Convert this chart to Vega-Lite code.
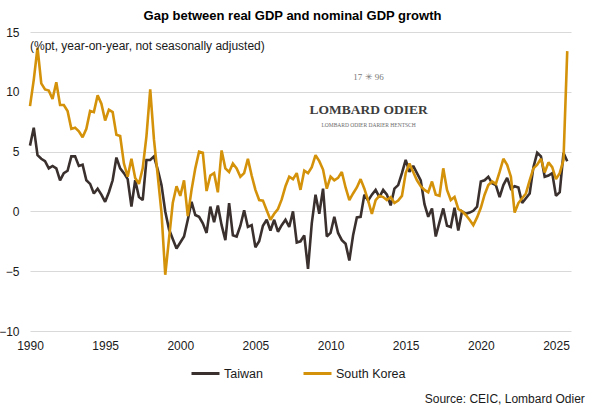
{
  "$schema": "https://vega.github.io/schema/vega-lite/v6.json",
  "width": 541,
  "height": 299,
  "autosize": {"type": "none"},
  "padding": {"left": 30, "top": 32, "right": 23, "bottom": 83},
  "background": "white",
  "title": {"text": "Gap between real GDP and nominal GDP growth", "fontSize": 13, "fontWeight": "bold", "font": "Liberation Sans", "color": "#000000", "anchor": "middle", "offset": 3, "dx": -8},
  "config": {"view": {"stroke": null}, "font": "Liberation Sans"},
  "datasets": {
    "gdp": [
      {"year": 1990, "Taiwan": 5.5, "South Korea": 8.8},
      {"year": 1990.25, "Taiwan": 7.0, "South Korea": 11.0},
      {"year": 1990.5, "Taiwan": 4.7, "South Korea": 13.7},
      {"year": 1990.75, "Taiwan": 4.4, "South Korea": 10.7},
      {"year": 1991, "Taiwan": 4.2, "South Korea": 10.2},
      {"year": 1991.25, "Taiwan": 3.6, "South Korea": 10.1},
      {"year": 1991.5, "Taiwan": 3.8, "South Korea": 9.4},
      {"year": 1991.75, "Taiwan": 3.6, "South Korea": 10.8},
      {"year": 1992, "Taiwan": 2.6, "South Korea": 8.9},
      {"year": 1992.25, "Taiwan": 3.2, "South Korea": 8.9},
      {"year": 1992.5, "Taiwan": 3.4, "South Korea": 8.4},
      {"year": 1992.75, "Taiwan": 4.6, "South Korea": 6.9},
      {"year": 1993, "Taiwan": 4.6, "South Korea": 7.0},
      {"year": 1993.25, "Taiwan": 3.8, "South Korea": 6.7},
      {"year": 1993.5, "Taiwan": 3.9, "South Korea": 6.2},
      {"year": 1993.75, "Taiwan": 2.6, "South Korea": 6.9},
      {"year": 1994, "Taiwan": 2.3, "South Korea": 8.4},
      {"year": 1994.25, "Taiwan": 1.5, "South Korea": 8.3},
      {"year": 1994.5, "Taiwan": 1.9, "South Korea": 9.7},
      {"year": 1994.75, "Taiwan": 1.4, "South Korea": 9.0},
      {"year": 1995, "Taiwan": 0.8, "South Korea": 7.6},
      {"year": 1995.25, "Taiwan": 1.6, "South Korea": 8.5},
      {"year": 1995.5, "Taiwan": 2.6, "South Korea": 8.3},
      {"year": 1995.75, "Taiwan": 4.5, "South Korea": 6.4},
      {"year": 1996, "Taiwan": 3.6, "South Korea": 6.3},
      {"year": 1996.25, "Taiwan": 3.2, "South Korea": 4.0},
      {"year": 1996.5, "Taiwan": 2.7, "South Korea": 2.9},
      {"year": 1996.75, "Taiwan": 0.4, "South Korea": 4.4},
      {"year": 1997, "Taiwan": 2.6, "South Korea": 2.8},
      {"year": 1997.25, "Taiwan": 1.2, "South Korea": 2.3},
      {"year": 1997.5, "Taiwan": 0.95, "South Korea": 3.6},
      {"year": 1997.75, "Taiwan": 4.3, "South Korea": 6.3},
      {"year": 1998, "Taiwan": 4.3, "South Korea": 10.2},
      {"year": 1998.25, "Taiwan": 4.6, "South Korea": 6.0},
      {"year": 1998.5, "Taiwan": 3.5, "South Korea": 3.0},
      {"year": 1998.75, "Taiwan": 2.2, "South Korea": -0.1},
      {"year": 1999, "Taiwan": 0.0, "South Korea": -5.3},
      {"year": 1999.25, "Taiwan": -1.5, "South Korea": -2.3},
      {"year": 1999.5, "Taiwan": -2.3, "South Korea": 0.7},
      {"year": 1999.75, "Taiwan": -3.1, "South Korea": 2.1},
      {"year": 2000, "Taiwan": -2.6, "South Korea": 1.3},
      {"year": 2000.25, "Taiwan": -2.1, "South Korea": 2.6},
      {"year": 2000.5, "Taiwan": -0.7, "South Korea": -0.4},
      {"year": 2000.75, "Taiwan": 0.8, "South Korea": 1.8},
      {"year": 2001, "Taiwan": -0.3, "South Korea": 3.6},
      {"year": 2001.25, "Taiwan": -0.45, "South Korea": 5.0},
      {"year": 2001.5, "Taiwan": -1.0, "South Korea": 4.9},
      {"year": 2001.75, "Taiwan": -1.8, "South Korea": 1.7},
      {"year": 2002, "Taiwan": 0.4, "South Korea": 3.0},
      {"year": 2002.25, "Taiwan": -0.9, "South Korea": 3.2},
      {"year": 2002.5, "Taiwan": 0.5, "South Korea": 1.6},
      {"year": 2002.75, "Taiwan": -1.15, "South Korea": 5.1},
      {"year": 2003, "Taiwan": -2.4, "South Korea": 3.6},
      {"year": 2003.25, "Taiwan": 0.7, "South Korea": 3.3},
      {"year": 2003.5, "Taiwan": -2.0, "South Korea": 4.0},
      {"year": 2003.75, "Taiwan": -2.1, "South Korea": 3.6},
      {"year": 2004, "Taiwan": -1.2, "South Korea": 2.9},
      {"year": 2004.25, "Taiwan": 0.1, "South Korea": 3.2},
      {"year": 2004.5, "Taiwan": -1.3, "South Korea": 4.4},
      {"year": 2004.75, "Taiwan": -1.15, "South Korea": 3.0},
      {"year": 2005, "Taiwan": -3.0, "South Korea": 1.8},
      {"year": 2005.25, "Taiwan": -2.5, "South Korea": 0.95},
      {"year": 2005.5, "Taiwan": -1.2, "South Korea": 0.9},
      {"year": 2005.75, "Taiwan": -0.7, "South Korea": 0.1},
      {"year": 2006, "Taiwan": -1.6, "South Korea": -0.7},
      {"year": 2006.25, "Taiwan": -0.7, "South Korea": -0.2},
      {"year": 2006.5, "Taiwan": -1.7, "South Korea": 0.2},
      {"year": 2006.75, "Taiwan": -1.15, "South Korea": 1.0},
      {"year": 2007, "Taiwan": -0.7, "South Korea": 2.1},
      {"year": 2007.25, "Taiwan": -1.3, "South Korea": 2.9},
      {"year": 2007.5, "Taiwan": 0.0, "South Korea": 2.7},
      {"year": 2007.75, "Taiwan": -2.6, "South Korea": 3.2},
      {"year": 2008, "Taiwan": -2.5, "South Korea": 1.8},
      {"year": 2008.25, "Taiwan": -2.0, "South Korea": 3.4},
      {"year": 2008.5, "Taiwan": -4.8, "South Korea": 3.2},
      {"year": 2008.75, "Taiwan": -1.0, "South Korea": 3.7},
      {"year": 2009, "Taiwan": 1.4, "South Korea": 4.7},
      {"year": 2009.25, "Taiwan": -0.2, "South Korea": 4.2},
      {"year": 2009.5, "Taiwan": 1.9, "South Korea": 3.5},
      {"year": 2009.75, "Taiwan": -2.1, "South Korea": 1.9},
      {"year": 2010, "Taiwan": -1.8, "South Korea": 2.9},
      {"year": 2010.25, "Taiwan": -0.45, "South Korea": 2.6},
      {"year": 2010.5, "Taiwan": -1.8, "South Korea": 2.8},
      {"year": 2010.75, "Taiwan": -2.4, "South Korea": 3.3},
      {"year": 2011, "Taiwan": -2.7, "South Korea": 2.0},
      {"year": 2011.25, "Taiwan": -4.1, "South Korea": 0.95},
      {"year": 2011.5, "Taiwan": -2.0, "South Korea": 1.5},
      {"year": 2011.75, "Taiwan": -0.5, "South Korea": 2.0},
      {"year": 2012, "Taiwan": -0.45, "South Korea": 2.7},
      {"year": 2012.25, "Taiwan": 1.4, "South Korea": 1.9},
      {"year": 2012.5, "Taiwan": 0.9, "South Korea": 0.9},
      {"year": 2012.75, "Taiwan": 1.4, "South Korea": -0.2},
      {"year": 2013, "Taiwan": 1.8, "South Korea": 0.95},
      {"year": 2013.25, "Taiwan": 1.2, "South Korea": 1.3},
      {"year": 2013.5, "Taiwan": 1.8, "South Korea": 1.2},
      {"year": 2013.75, "Taiwan": 1.4, "South Korea": 0.95},
      {"year": 2014, "Taiwan": 0.5, "South Korea": 1.2},
      {"year": 2014.25, "Taiwan": 1.9, "South Korea": 0.7},
      {"year": 2014.5, "Taiwan": 2.2, "South Korea": 0.9},
      {"year": 2014.75, "Taiwan": 3.2, "South Korea": 1.3},
      {"year": 2015, "Taiwan": 4.3, "South Korea": 3.2},
      {"year": 2015.25, "Taiwan": 3.3, "South Korea": 4.0},
      {"year": 2015.5, "Taiwan": 3.8, "South Korea": 3.3},
      {"year": 2015.75, "Taiwan": 3.2, "South Korea": 2.6},
      {"year": 2016, "Taiwan": 2.6, "South Korea": 2.1},
      {"year": 2016.25, "Taiwan": 0.6, "South Korea": 1.8},
      {"year": 2016.5, "Taiwan": -0.45, "South Korea": 1.6},
      {"year": 2016.75, "Taiwan": 0.25, "South Korea": 2.5},
      {"year": 2017, "Taiwan": -2.1, "South Korea": 1.4},
      {"year": 2017.25, "Taiwan": -0.9, "South Korea": 1.3},
      {"year": 2017.5, "Taiwan": 0.25, "South Korea": 3.6},
      {"year": 2017.75, "Taiwan": -1.2, "South Korea": 1.8},
      {"year": 2018, "Taiwan": -1.3, "South Korea": 0.95},
      {"year": 2018.25, "Taiwan": 0.3, "South Korea": 1.2},
      {"year": 2018.5, "Taiwan": -1.6, "South Korea": 0.2},
      {"year": 2018.75, "Taiwan": 0.0, "South Korea": 0.0},
      {"year": 2019, "Taiwan": -0.2, "South Korea": -0.3},
      {"year": 2019.25, "Taiwan": -0.1, "South Korea": -0.7},
      {"year": 2019.5, "Taiwan": 0.05, "South Korea": -1.15},
      {"year": 2019.75, "Taiwan": 0.4, "South Korea": -0.5},
      {"year": 2020, "Taiwan": 2.5, "South Korea": 0.3},
      {"year": 2020.25, "Taiwan": 2.6, "South Korea": 1.4},
      {"year": 2020.5, "Taiwan": 2.9, "South Korea": 2.2},
      {"year": 2020.75, "Taiwan": 2.35, "South Korea": 2.5},
      {"year": 2021, "Taiwan": 2.2, "South Korea": 2.3},
      {"year": 2021.25, "Taiwan": 1.2, "South Korea": 3.3},
      {"year": 2021.5, "Taiwan": 2.2, "South Korea": 4.4},
      {"year": 2021.75, "Taiwan": 2.8, "South Korea": 3.9},
      {"year": 2022, "Taiwan": 1.9, "South Korea": 2.9},
      {"year": 2022.25, "Taiwan": 2.1, "South Korea": -0.1},
      {"year": 2022.5, "Taiwan": 2.0, "South Korea": 0.7},
      {"year": 2022.75, "Taiwan": 0.7, "South Korea": 1.1},
      {"year": 2023, "Taiwan": 1.1, "South Korea": 1.5},
      {"year": 2023.25, "Taiwan": 1.5, "South Korea": 2.6},
      {"year": 2023.5, "Taiwan": 3.7, "South Korea": 3.6},
      {"year": 2023.75, "Taiwan": 4.9, "South Korea": 3.9},
      {"year": 2024, "Taiwan": 4.6, "South Korea": 4.4},
      {"year": 2024.25, "Taiwan": 2.9, "South Korea": 3.25},
      {"year": 2024.5, "Taiwan": 3.0, "South Korea": 4.1},
      {"year": 2024.75, "Taiwan": 3.2, "South Korea": 3.7},
      {"year": 2025, "Taiwan": 1.3, "South Korea": 2.7},
      {"year": 2025.25, "Taiwan": 1.6, "South Korea": 3.2},
      {"year": 2025.5, "Taiwan": 4.9, "South Korea": 4.3},
      {"year": 2025.75, "Taiwan": 4.2, "South Korea": 13.4}
    ],
    "notes": [
      {"year": 1990, "level": 13.85, "label": "(%pt, year-on-year, not seasonally adjusted)", "kind": "subtitle"},
      {"year": 2026.92, "level": -15.65, "label": "Source: CEIC, Lombard Odier", "kind": "source"},
      {"year": 2012.53, "level": 11.25, "label": "17    ✳    96", "kind": "years"},
      {"year": 2012.53, "level": 8.5, "label": "LOMBARD ODIER", "kind": "name"},
      {"year": 2012.53, "level": 7.25, "label": "LOMBARD ODIER DARIER HENTSCH", "kind": "tag"}
    ]
  },
  "layer": [
    {
      "mark": {"type": "rule", "color": "#000000", "strokeWidth": 1.3},
      "encoding": {
        "y": {"datum": 0, "type": "quantitative", "scale": {"domain": [-10, 15], "nice": false, "zero": false}}
      }
    },
    {
      "data": {"name": "gdp"},
      "transform": [{"fold": ["Taiwan", "South Korea"], "as": ["country", "gap"]}],
      "mark": {"type": "line", "strokeWidth": 2.6, "strokeJoin": "miter", "strokeMiterLimit": 2},
      "encoding": {
        "x": {
          "field": "year", "type": "quantitative",
          "scale": {"domain": [1990, 2026], "nice": false, "zero": false},
          "axis": {"values": [1990, 1995, 2000, 2005, 2010, 2015, 2020, 2025], "format": "d", "title": null, "grid": false, "domain": false, "ticks": false, "labelPadding": 9, "labelFontSize": 12, "labelColor": "#1a1a1a", "labelFont": "Liberation Sans", "labelFlush": false}
        },
        "y": {
          "field": "gap", "type": "quantitative",
          "scale": {"domain": [-10, 15], "nice": false, "zero": false},
          "axis": {"values": [-10, -5, 0, 5, 10, 15], "title": null, "grid": true, "gridColor": "#d9d9d9", "gridWidth": 1, "domain": false, "ticks": false, "labelPadding": 11, "labelFontSize": 12, "labelColor": "#1a1a1a", "labelFont": "Liberation Sans"}
        },
        "color": {
          "field": "country", "type": "nominal",
          "scale": {"domain": ["Taiwan", "South Korea"], "range": ["#3a302e", "#d4920a"]},
          "legend": {"orient": "none", "legendX": 160, "legendY": 326, "direction": "horizontal", "title": null, "symbolType": "stroke", "symbolSize": 784, "symbolStrokeWidth": 3, "labelFontSize": 12.5, "labelFont": "Liberation Sans", "labelColor": "#1a1a1a", "columnPadding": 34, "labelOffset": 3, "padding": 0}
        },
        "detail": {"field": "country"}
      }
    },
    {
      "data": {"name": "notes"},
      "transform": [{"filter": "datum.kind === 'subtitle'"}],
      "mark": {"type": "text", "fontSize": 12, "font": "Liberation Sans", "color": "#1a1a1a", "baseline": "middle", "align": "left"},
      "encoding": {
        "x": {"field": "year", "type": "quantitative"},
        "y": {"field": "level", "type": "quantitative"},
        "text": {"field": "label"}
      }
    },
    {
      "data": {"name": "notes"},
      "transform": [{"filter": "datum.kind === 'source'"}],
      "mark": {"type": "text", "fontSize": 12, "font": "Liberation Sans", "color": "#1a1a1a", "baseline": "middle", "align": "right"},
      "encoding": {
        "x": {"field": "year", "type": "quantitative"},
        "y": {"field": "level", "type": "quantitative"},
        "text": {"field": "label"}
      }
    },
    {
      "data": {"name": "notes"},
      "transform": [{"filter": "datum.kind === 'years'"}],
      "mark": {"type": "text", "fontSize": 9, "font": "Liberation Serif", "color": "#7a7a7a", "baseline": "middle", "align": "center"},
      "encoding": {
        "x": {"field": "year", "type": "quantitative"},
        "y": {"field": "level", "type": "quantitative"},
        "text": {"field": "label"}
      }
    },
    {
      "data": {"name": "notes"},
      "transform": [{"filter": "datum.kind === 'name'"}],
      "mark": {"type": "text", "fontSize": 13.5, "fontWeight": "bold", "font": "Liberation Serif", "color": "#3d3d3d", "baseline": "middle", "align": "center"},
      "encoding": {
        "x": {"field": "year", "type": "quantitative"},
        "y": {"field": "level", "type": "quantitative"},
        "text": {"field": "label"}
      }
    },
    {
      "data": {"name": "notes"},
      "transform": [{"filter": "datum.kind === 'tag'"}],
      "mark": {"type": "text", "fontSize": 5.5, "font": "Liberation Serif", "color": "#6a6a6a", "baseline": "middle", "align": "center"},
      "encoding": {
        "x": {"field": "year", "type": "quantitative"},
        "y": {"field": "level", "type": "quantitative"},
        "text": {"field": "label"}
      }
    }
  ]
}
